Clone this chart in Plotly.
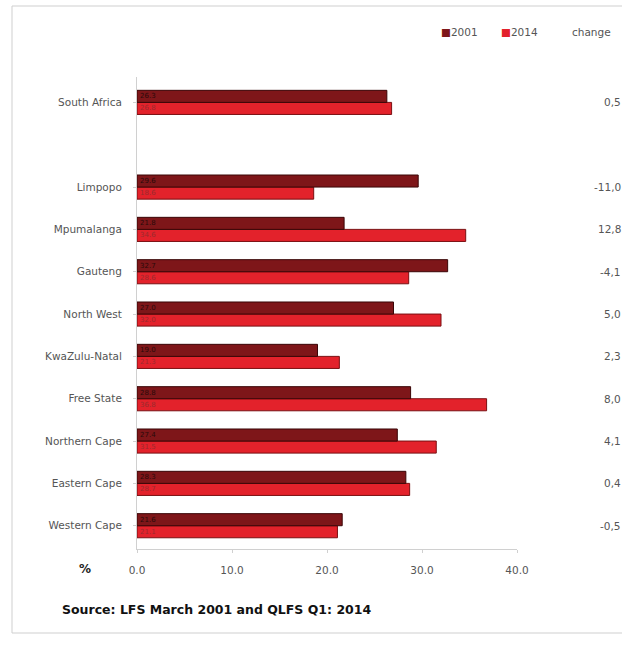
import plotly.graph_objects as go

# ---- data ----
categories = ["Western Cape", "Eastern Cape", "Northern Cape", "Free State", "KwaZulu-Natal",
              "North West", "Gauteng", "Mpumalanga", "Limpopo", "South Africa"]
positions = [0, 1, 2, 3, 4, 5, 6, 7, 8, 10]
values_2001 = [21.6, 28.3, 27.4, 28.8, 19.0, 27.0, 32.7, 21.8, 29.6, 26.3]
values_2014 = [21.1, 28.7, 31.5, 36.8, 21.3, 32.0, 28.6, 34.6, 18.6, 26.8]
change_labels = ["-0,5", "0,4", "4,1", "8,0", "2,3", "5,0", "-4,1", "12,8", "-11,0", "0,5"]
x_ticks = [0, 10, 20, 30, 40]
x_ticklabels = ["0.0", "10.0", "20.0", "30.0", "40.0"]

COL_2001 = "#7E1619"
COL_2014 = "#E3222B"
FONT = "DejaVu Sans"

# ---- layout helpers (pixel geometry) ----
W, H = 622, 646
L, R, T, B = 137, 105, 77, 97
pw, ph = W - L - R, H - T - B

def px_x(p):
    return (p - L) / pw

def px_y(p):
    return (H - B - p) / ph

fig = go.Figure()

fig.add_trace(go.Bar(
    y=positions, x=values_2014, orientation="h", name="2014",
    marker=dict(color=COL_2014, line=dict(color="#7a0f12", width=1)),
    text=[f"{v:.1f}" for v in values_2014], textposition="inside",
    insidetextanchor="start", textfont=dict(size=7, color="#9a2a2e", family=FONT),
    cliponaxis=False,
))
fig.add_trace(go.Bar(
    y=positions, x=values_2001, orientation="h", name="2001",
    marker=dict(color=COL_2001, line=dict(color="#3a0607", width=1)),
    text=[f"{v:.1f}" for v in values_2001], textposition="inside",
    insidetextanchor="start", textfont=dict(size=7, color="#2a0a0a", family=FONT),
    cliponaxis=False,
))

annotations = []
for pos, lab in zip(positions, change_labels):
    annotations.append(dict(
        x=px_x(623), xref="paper", y=pos, yref="y", text=lab, showarrow=False,
        xanchor="right", yanchor="middle",
        font=dict(size=10.5, color="#555555", family=FONT)))
# legend (as text)
annotations.append(dict(
    x=px_x(439), xref="paper", y=px_y(32), yref="paper",
    text=f'<span style="color:{COL_2001}">■</span>2001', showarrow=False,
    xanchor="left", yanchor="middle", font=dict(size=10.5, color="#555555", family=FONT)))
annotations.append(dict(
    x=px_x(499), xref="paper", y=px_y(32), yref="paper",
    text=f'<span style="color:{COL_2014}">■</span>2014', showarrow=False,
    xanchor="left", yanchor="middle", font=dict(size=10.5, color="#555555", family=FONT)))
annotations.append(dict(
    x=px_x(591), xref="paper", y=px_y(32), yref="paper", text="change", showarrow=False,
    xanchor="center", yanchor="middle", font=dict(size=10.5, color="#555555", family=FONT)))
annotations.append(dict(
    x=px_x(85), xref="paper", y=px_y(569), yref="paper", text="<b>%</b>", showarrow=False,
    xanchor="center", yanchor="middle", font=dict(size=12, color="#222222", family=FONT)))
annotations.append(dict(
    x=px_x(60), xref="paper", y=px_y(609), yref="paper",
    text="<b>Source: LFS March 2001 and QLFS Q1: 2014</b>", showarrow=False,
    xanchor="left", yanchor="middle", font=dict(size=12.5, color="#111111", family=FONT)))

fig.update_layout(
    width=W, height=H,
    margin=dict(l=L, r=R, t=T, b=B),
    paper_bgcolor="white", plot_bgcolor="white",
    barmode="group", bargap=0.43, bargroupgap=0,
    showlegend=False,
    annotations=annotations,
    shapes=[dict(type="rect", xref="paper", yref="paper",
                 x0=px_x(12), x1=px_x(640), y0=px_y(633), y1=px_y(6),
                 line=dict(color="#cfcfcf", width=1), fillcolor="rgba(0,0,0,0)", layer="below")],
    xaxis=dict(range=[0, 40], tickvals=x_ticks, ticktext=x_ticklabels,
               showgrid=False, zeroline=False, showline=True, linecolor="#d0d0d0",
               ticks="outside", ticklen=3, tickcolor="#d0d0d0", ticklabelstandoff=8,
               tickfont=dict(size=10.5, color="#555555", family=FONT)),
    yaxis=dict(range=[-0.55, 10.6], tickvals=positions, ticktext=categories,
               showgrid=False, zeroline=False, showline=True, linecolor="#d0d0d0",
               ticks="outside", ticklen=3, tickcolor="#d0d0d0", ticklabelstandoff=9,
               tickfont=dict(size=10.5, color="#555555", family=FONT)),
    uniformtext=dict(minsize=6, mode="show"),
)

fig.write_html("out.html")
